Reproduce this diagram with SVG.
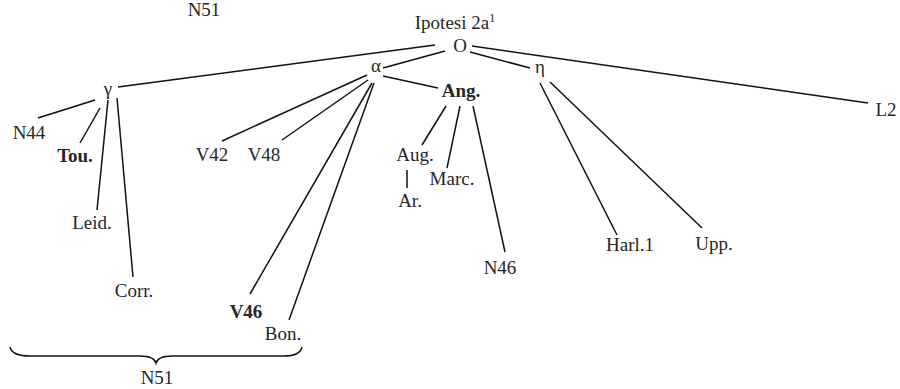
<svg xmlns="http://www.w3.org/2000/svg" width="900" height="389" viewBox="0 0 900 389">
<style>
text{font-family:"Times New Roman",Tinos,serif;font-size:19px;fill:#262626;text-anchor:middle}
.b{font-weight:bold}
.e{stroke:#111;stroke-width:1.5;fill:none}
</style>
<rect width="900" height="389" fill="#fff"/>
<g id="connectors">
<line class="e" x1="435" y1="45" x2="118" y2="87"/>
<line class="e" x1="445" y1="51" x2="383" y2="68"/>
<line class="e" x1="470" y1="52" x2="530" y2="68"/>
<line class="e" x1="472" y1="46" x2="868" y2="103"/>
<line class="e" x1="383" y1="76" x2="438" y2="88"/>
<line class="e" x1="446" y1="106" x2="422" y2="145"/>
<line class="e" x1="460" y1="106" x2="447" y2="168"/>
<line class="e" x1="473" y1="106" x2="505" y2="252"/>
<line class="e" x1="407" y1="170" x2="407" y2="188"/>
<line class="e" x1="95" y1="100" x2="38" y2="118"/>
<line class="e" x1="100" y1="108" x2="80" y2="143"/>
<line class="e" x1="108" y1="100" x2="97" y2="210"/>
<line class="e" x1="117" y1="98" x2="133" y2="277"/>
<line class="e" x1="367" y1="75" x2="222" y2="141"/>
<line class="e" x1="368" y1="80" x2="282" y2="140"/>
<line class="e" x1="372" y1="83" x2="250" y2="294"/>
<line class="e" x1="374" y1="83" x2="289" y2="320"/>
<line class="e" x1="540" y1="83" x2="617" y2="235"/>
<line class="e" x1="550" y1="82" x2="702" y2="228"/>
<path class="e" d="M10,347 Q12,356 30,356 L140,356 Q154,356 156,363 Q158,356 172,356 L284,356 Q300,356 302,347"/>
</g>
<g id="nodes">
<g id="n-n51top"><text x="204" y="16">N51</text></g>
<g id="n-title"><text x="455" y="29">Ipotesi 2a<tspan font-size="12" dy="-7">1</tspan></text></g>
<g id="n-O"><text x="460" y="52">O</text></g>
<g id="n-gamma"><text x="108" y="95">γ</text></g>
<g id="n-alpha"><text x="376" y="72">α</text></g>
<g id="n-eta"><text x="540" y="73">η</text></g>
<g id="n-L2"><text x="886" y="116">L2</text></g>
<g id="n-Ang"><text class="b" x="461" y="97">Ang.</text></g>
<g id="n-N44"><text x="29" y="139">N44</text></g>
<g id="n-Tou"><text class="b" x="75" y="162">Tou.</text></g>
<g id="n-Leid"><text x="92" y="229">Leid.</text></g>
<g id="n-Corr"><text x="134" y="297">Corr.</text></g>
<g id="n-V42"><text x="212" y="161">V42</text></g>
<g id="n-V48"><text x="264" y="161">V48</text></g>
<g id="n-V46"><text class="b" x="246" y="318">V46</text></g>
<g id="n-Bon"><text x="283" y="340">Bon.</text></g>
<g id="n-Aug"><text x="415" y="161">Aug.</text></g>
<g id="n-Ar"><text x="410" y="207">Ar.</text></g>
<g id="n-Marc"><text x="452" y="185">Marc.</text></g>
<g id="n-N46"><text x="500" y="274">N46</text></g>
<g id="n-Harl1"><text x="630" y="251">Harl.1</text></g>
<g id="n-Upp"><text x="714" y="250">Upp.</text></g>
<g id="n-n51bot"><text x="157" y="384">N51</text></g>
</g>
</svg>
